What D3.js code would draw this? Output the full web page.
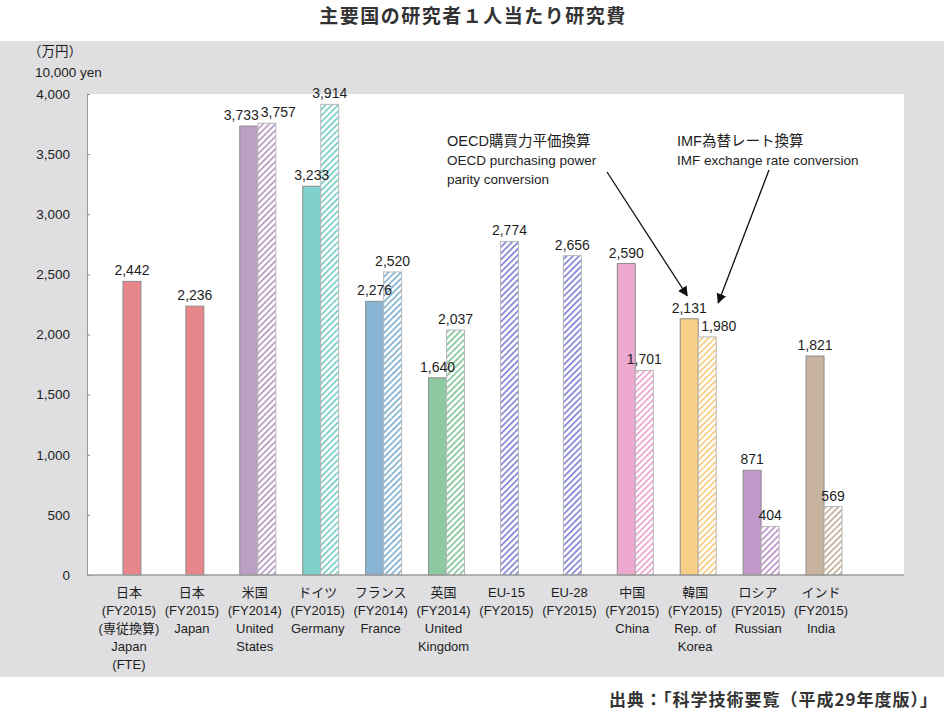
<!DOCTYPE html>
<html>
<head>
<meta charset="utf-8">
<script src="https://cdn.jsdelivr.net/npm/d3@7"></script>
<style>
  html, body { margin: 0; padding: 0; background: #ffffff; }
  svg text { font-family: "Liberation Sans", "Noto Sans CJK JP", sans-serif; }
</style>
</head>
<body>
<svg id="chart" width="945" height="720"></svg>
<script>
// ---------- data ----------
const categoriesJa = ["日本", "日本", "米国", "ドイツ", "フランス", "英国", "EU-15", "EU-28", "中国", "韓国", "ロシア", "インド"];
const fiscalYears = ["(FY2015)", "(FY2015)", "(FY2014)", "(FY2015)", "(FY2014)", "(FY2014)", "(FY2015)", "(FY2015)", "(FY2015)", "(FY2015)", "(FY2015)", "(FY2015)"];
const categoriesEn = [["(専従換算)", "Japan", "(FTE)"], ["Japan"], ["United", "States"], ["Germany"], ["France"], ["United", "Kingdom"], [], [], ["China"], ["Rep. of", "Korea"], ["Russian"], ["India"]];
const pppValues = [2442, 2236, 3733, 3233, 2276, 1640, null, null, 2590, 2131, 871, 1821];   // OECD購買力平価換算
const imfValues = [null, null, 3757, 3914, 2520, 2037, 2774, 2656, 1701, 1980, 404, 569];    // IMF為替レート換算
const yTicks = [0, 500, 1000, 1500, 2000, 2500, 3000, 3500, 4000];

// ---------- styles ----------
const barColors = ["#e8878b", "#e8878b", "#baa0c5", "#80d0cb", "#88b5d4", "#8dc9a1", "#8a8ad8", "#8a8ad8", "#eda9cf", "#f8cf86", "#c198ca", "#c8b39f"];

const svg = d3.select("#chart");
const plot = { left: 87, right: 904, top: 94, bottom: 575 };

// background panel
svg.append("rect").attr("x", 0).attr("y", 41).attr("width", 944).attr("height", 636).attr("fill", "#dfdfe1");
svg.append("rect").attr("x", plot.left).attr("y", plot.top)
  .attr("width", plot.right - plot.left).attr("height", plot.bottom - plot.top).attr("fill", "#ffffff");

// title
svg.append("text").attr("x", 473).attr("y", 23).attr("text-anchor", "middle")
  .attr("font-size", 19).attr("font-weight", "bold").attr("fill", "#333")
  .style("font-family", "'Noto Sans CJK JP', sans-serif").style("letter-spacing", "1.5px")
  .text("主要国の研究者１人当たり研究費");

// scales
const y = d3.scaleLinear().domain([0, 4000]).range([plot.bottom, plot.top]);
const x = d3.scaleBand().domain(d3.range(categoriesJa.length)).range([100.5, 855.5]).padding(0);
const barW = 18;

// hatch patterns
const defs = svg.append("defs");
barColors.forEach((c, i) => {
  const p = defs.append("pattern").attr("id", "hatch" + i)
    .attr("patternUnits", "userSpaceOnUse").attr("width", 4.4).attr("height", 10)
    .attr("patternTransform", "rotate(45)");
  p.append("rect").attr("width", 4.4).attr("height", 10).attr("fill", "#ffffff");
  p.append("rect").attr("x", 0).attr("width", 1.8).attr("height", 10).attr("fill", c);
});

// y axis
const yAxis = d3.axisLeft(y).tickValues(yTicks).tickFormat(d3.format(",")).tickSize(-3).tickPadding(17);
const gy = svg.append("g").attr("transform", `translate(${plot.left},0)`).call(yAxis);
gy.select(".domain").attr("stroke", "#9a9a9a");
gy.selectAll(".tick line").attr("stroke", "#8a8a8a");
gy.selectAll(".tick text").attr("font-size", 13.5).attr("fill", "#1e1e1e")
  .style("font-family", "'Liberation Sans', sans-serif");

// unit labels
svg.append("text").attr("x", 55).attr("y", 56).attr("text-anchor", "middle")
  .attr("font-size", 13.5).attr("fill", "#1e1e1e").text("（万円）");
svg.append("text").attr("x", 35).attr("y", 77)
  .attr("font-size", 13.5).attr("fill", "#1e1e1e").text("10,000 yen");

// bars
const fmt = d3.format(",");
const bars = [];
categoriesJa.forEach((c, i) => {
  const center = x(i) + x.bandwidth() / 2;
  const hasP = pppValues[i] != null, hasI = imfValues[i] != null;
  if (hasP && hasI) {
    bars.push({ i, v: pppValues[i], x0: center - barW, hatch: false });
    bars.push({ i, v: imfValues[i], x0: center, hatch: true });
  } else if (hasP) {
    bars.push({ i, v: pppValues[i], x0: center - barW / 2, hatch: false });
  } else if (hasI) {
    bars.push({ i, v: imfValues[i], x0: center - barW / 2, hatch: true });
  }
});

const gBars = svg.append("g");
gBars.selectAll("rect").data(bars).join("rect")
  .attr("x", d => d.x0).attr("width", barW)
  .attr("y", d => y(d.v)).attr("height", d => y(0) - y(d.v))
  .attr("fill", d => d.hatch ? `url(#hatch${d.i})` : barColors[d.i])
  .attr("stroke", d => d.hatch ? "#b8b8b8" : "#8c8c8c").attr("stroke-width", 1);

// value labels (moved aside when they would collide)
const gLab = svg.append("g");
bars.forEach(d => {
  const center = x(d.i) + x.bandwidth() / 2;
  let tx = d.x0 + barW / 2, anchor = "middle";
  const other = bars.find(o => o.i === d.i && o !== d);
  if (other) {
    const dy = Math.abs(y(other.v) - y(d.v));
    if (d.hatch && dy < 20) { tx = center + 3; anchor = "start"; }
    else if (!d.hatch && dy < 14) { tx = center + 1; anchor = "end"; }
  }
  gLab.append("text").attr("x", tx).attr("y", y(d.v) - 6).attr("text-anchor", anchor)
    .attr("font-size", 14).attr("fill", "#1e1e1e").text(fmt(d.v));
});

// x axis baseline
svg.append("line").attr("x1", plot.left).attr("x2", plot.right).attr("y1", plot.bottom).attr("y2", plot.bottom)
  .attr("stroke", "#9c9c9c").attr("stroke-width", 1.5);

// category labels
const gX = svg.append("g");
categoriesJa.forEach((c, i) => {
  const cx = x(i) + x.bandwidth() / 2 - 3;
  const lines = [c, fiscalYears[i]].concat(categoriesEn[i]);
  lines.forEach((t, k) => {
    gX.append("text").attr("x", cx).attr("y", 597 + k * 18).attr("text-anchor", "middle")
      .attr("font-size", 13).attr("fill", "#1e1e1e").text(t);
  });
});

// annotations
defs.append("marker").attr("id", "arrow").attr("viewBox", "0 0 10 10").attr("refX", 9).attr("refY", 5)
  .attr("markerWidth", 10).attr("markerHeight", 10).attr("markerUnits", "userSpaceOnUse").attr("orient", "auto")
  .append("path").attr("d", "M0,0 L10,5 L0,10 Z").attr("fill", "#111");

const ann = svg.append("g");
ann.append("text").attr("x", 447).attr("y", 146).attr("font-size", 14.5).attr("fill", "#1e1e1e").text("OECD購買力平価換算");
ann.append("text").attr("x", 447).attr("y", 165).attr("font-size", 13.5).attr("fill", "#1e1e1e").text("OECD purchasing power");
ann.append("text").attr("x", 447).attr("y", 184).attr("font-size", 13.5).attr("fill", "#1e1e1e").text("parity conversion");
ann.append("text").attr("x", 677).attr("y", 146).attr("font-size", 14.5).attr("fill", "#1e1e1e").text("IMF為替レート換算");
ann.append("text").attr("x", 677).attr("y", 165).attr("font-size", 13.5).attr("fill", "#1e1e1e").text("IMF exchange rate conversion");

const kIdx = categoriesJa.indexOf("韓国");
const kCenter = x(kIdx) + x.bandwidth() / 2;
ann.append("line").attr("x1", 607).attr("y1", 172)
  .attr("x2", kCenter - barW / 2 - 2).attr("y2", y(pppValues[kIdx]) - 23)
  .attr("stroke", "#111").attr("stroke-width", 1.3).attr("marker-end", "url(#arrow)");
ann.append("line").attr("x1", 769).attr("y1", 170)
  .attr("x2", kCenter + barW / 2 + 11).attr("y2", y(imfValues[kIdx]) - 34)
  .attr("stroke", "#111").attr("stroke-width", 1.3).attr("marker-end", "url(#arrow)");

// source
svg.append("text").attr("x", 938).attr("y", 706).attr("text-anchor", "end")
  .attr("font-size", 17).attr("font-weight", "bold").attr("fill", "#333")
  .style("font-family", "'Noto Sans CJK JP', sans-serif").style("letter-spacing", "1px")
  .text("出典：「科学技術要覧（平成29年度版）」");
</script>
</body>
</html>
